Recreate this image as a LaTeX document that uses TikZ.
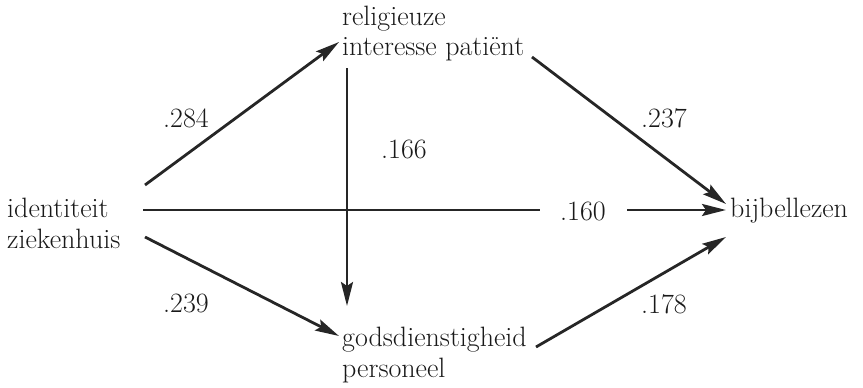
\documentclass[tikz,border=0pt]{standalone}
\usepackage{fontspec}
\usetikzlibrary{arrows.meta}
\begin{document}
\begin{tikzpicture}[x=1pt,y=-1pt,
  lbl/.style={font=\fontsize{28}{32}\selectfont, inner sep=0pt, anchor=base west, text=black!90},
  num/.style={font=\fontsize{28}{32}\selectfont, inner sep=0pt, text=black!90},
  conn/.style={line width=2.8pt, draw=black!85, -{Stealth[length=24pt,width=12pt,inset=4pt]}},
  plain/.style={line width=2.8pt, draw=black!85}]
\useasboundingbox (0,0) rectangle (863,388);
% texts
\node[lbl] (id1) at (7,217) {identiteit};
\node[lbl] (id2) at (7,248) {ziekenhuis};
\node[lbl] (rel1) at (342,25) {religieuze};
\node[lbl] (rel2) at (342,56) {interesse patiënt};
\node[lbl] (god1) at (342,346) {godsdienstigheid};
\node[lbl] (god2) at (342,377) {personeel};
\node[lbl] (bij) at (730,217) {bijbellezen};
% endpoints
\coordinate (a1) at (145,185);
\coordinate (a2) at (339,42);
\coordinate (b1) at (145,237);
\coordinate (b2) at (339,336);
\coordinate (c1) at (347,68);
\coordinate (c2) at (347,306);
\coordinate (d1) at (532,57);
\coordinate (d2) at (726,204);
\coordinate (e1) at (536,347);
\coordinate (e2) at (726,237);
\coordinate (f1) at (143,210);
\coordinate (f2) at (726,210);
% connectors
\draw[conn] (a1) -- (a2);
\draw[conn] (b1) -- (b2);
\draw[conn] (c1) -- (c2);
\draw[conn] (d1) -- (d2);
\draw[conn] (e1) -- (e2);
\draw[plain] (f1) -- (540,210);
\draw[conn] (627,210) -- (f2);
% labels
\node[num] (l284) at (186,118) {.284};
\node[num] (l166) at (404,149) {.166};
\node[num] (l239) at (186,303) {.239};
\node[num] (l237) at (664,118) {.237};
\node[num] (l178) at (664,304) {.178};
\node[num] (l160) at (583,211) {.160};
\end{tikzpicture}
\end{document}
